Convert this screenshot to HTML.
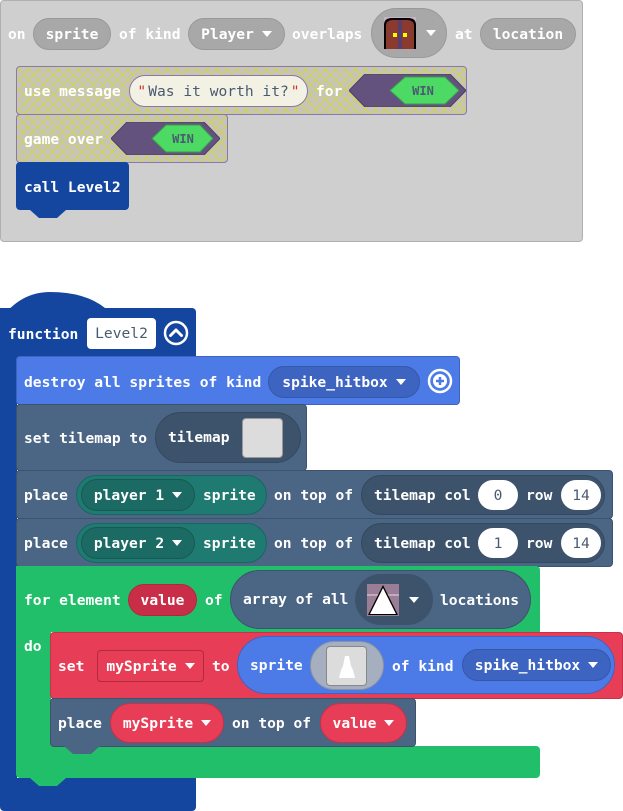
<!DOCTYPE html>
<html><head><meta charset="utf-8">
<style>
*{margin:0;padding:0;box-sizing:border-box}
body{width:623px;height:811px;background:#fff;position:relative;overflow:hidden;font-family:"DejaVu Sans Mono","Liberation Mono",monospace;font-weight:bold;font-size:14.6px;color:#fff}
div{position:absolute}
.t{white-space:nowrap;line-height:16px;margin-top:1px}
.p{border-radius:20px;white-space:nowrap;display:flex;align-items:center;justify-content:center}
.hatch{background-color:#c4c4bc;background-image:repeating-linear-gradient(45deg,transparent 0 4px,#d4d44c 4px 5px,transparent 5px 7px),repeating-linear-gradient(-45deg,transparent 0 4px,#d4d44c 4px 5px,transparent 5px 7px);border:1px solid #8a76b0;border-radius:4px}
.slate{background:#4b6584;border:1px solid #3d536c;border-radius:4px}
.dd{display:inline-block;width:0;height:0;border-left:5px solid transparent;border-right:5px solid transparent;border-top:6px solid #fff;margin-left:8px;vertical-align:middle}
.notch{width:36px;height:8px;clip-path:polygon(0 0,100% 0,75% 100%,25% 100%)}
</style></head><body>

<!-- event block -->
<div style="left:0;top:0;width:583px;height:242px;background:#cfcfcf;border:1px solid #b0b0b0;border-radius:4px"></div>
<div class="t" style="left:8px;top:26px">on</div>
<div class="p" style="left:33px;top:18px;width:78px;height:32px;background:#a8a8a8;border:1px solid #999">sprite</div>
<div class="t" style="left:119px;top:26px">of kind</div>
<div class="p" style="left:188px;top:18px;width:97px;height:32px;background:#a8a8a8;border:1px solid #999">Player<span class="dd"></span></div>
<div class="t" style="left:292px;top:26px">overlaps</div>
<div class="p" style="left:371px;top:8px;width:76px;height:50px;background:#a8a8a8;border:1px solid #999;border-radius:25px;justify-content:flex-start;padding-left:12px">
 <svg width="32" height="32" viewBox="0 0 32 32"><rect width="32" height="32" fill="#c8b4c4"/><path d="M0 32V8Q0 1 8 1H24Q32 1 32 8V32Z" fill="#000"/><path d="M2 32V9Q2 3 9 3H23Q30 3 30 9V32Z" fill="#8b3a30"/><rect x="14" y="3" width="4" height="29" fill="#5a3c6e"/><rect x="9" y="16" width="4" height="4" fill="#ff0"/><rect x="19" y="16" width="4" height="4" fill="#ff0"/></svg>
 <span class="dd" style="margin-left:10px"></span></div>
<div class="t" style="left:455px;top:26px">at</div>
<div class="p" style="left:480px;top:18px;width:96px;height:32px;background:#a8a8a8;border:1px solid #999">location</div>

<!-- use message -->
<div class="hatch" style="left:16px;top:66px;width:451px;height:49px"></div>
<div class="t" style="left:24px;top:83px">use message</div>
<div class="p" style="left:129px;top:75px;width:179px;height:32px;background:#f3f1e4;border:1px solid #8a76b0;color:#4a5a70;font-weight:normal"><span style="color:#c33;margin-right:2px">"</span>Was it worth it?<span style="color:#c33;margin-left:2px">"</span></div>
<div class="t" style="left:316px;top:83px">for</div>
<svg style="position:absolute;left:349px;top:74px" width="117" height="33"><polygon points="0,16.5 16,0 101,0 117,16.5 101,33 16,33" fill="#64527e" stroke="#4b3f68"/><polygon points="41,16.5 56,3 96,3 110,16.5 96,30 56,30" fill="#4cd964" stroke="#3d9a50"/><text x="74" y="21" text-anchor="middle" fill="#4a5a70" font-family="DejaVu Sans Mono" font-size="12">WIN</text></svg>

<!-- game over -->
<div class="hatch" style="left:16px;top:114px;width:212px;height:49px"></div>
<div class="t" style="left:24px;top:131px">game over</div>
<svg style="position:absolute;left:111px;top:122px" width="109" height="33"><polygon points="0,16.5 16,0 93,0 109,16.5 93,33 16,33" fill="#64527e" stroke="#4b3f68"/><polygon points="41,16.5 55,3 89,3 102,16.5 89,30 55,30" fill="#4cd964" stroke="#3d9a50"/><text x="72" y="21" text-anchor="middle" fill="#4a5a70" font-family="DejaVu Sans Mono" font-size="12">WIN</text></svg>

<!-- call Level2 -->
<div style="left:16px;top:162px;width:113px;height:48px;background:#1446a0;border-radius:4px"></div>
<div class="notch" style="left:30px;top:210px;background:#1446a0"></div>
<div class="t" style="left:24px;top:179px">call Level2</div>

<!-- function block -->
<svg style="position:absolute;left:0;top:290px" width="110" height="40"><path d="M0 40V30Q20 2 50 2Q85 2 105 18V40Z" fill="#1446a0"/></svg>
<div style="left:0;top:308px;width:196px;height:49px;background:#1446a0;border-radius:0 4px 0 0"></div>
<div style="left:0;top:350px;width:17px;height:440px;background:#1446a0"></div>
<div style="left:0;top:778px;width:196px;height:33px;background:#1446a0;border-radius:0 0 4px 4px"></div>
<div class="t" style="left:8px;top:326px">function</div>
<div class="p" style="left:87px;top:318px;width:69px;height:31px;background:#fff;border-radius:4px;color:#4a5a70;font-weight:normal">Level2</div>
<svg style="position:absolute;left:163px;top:320px" width="26" height="26"><circle cx="13" cy="13" r="11" fill="none" stroke="#fff" stroke-width="2.5"/><path d="M7.5 15.5L13 10L18.5 15.5" fill="none" stroke="#fff" stroke-width="3" stroke-linecap="round" stroke-linejoin="round"/></svg>

<!-- destroy -->
<div style="left:16px;top:356px;width:444px;height:49px;background:#4c7be8;border:1px solid #3d64c0;border-radius:4px"></div>
<div class="t" style="left:24px;top:374px">destroy all sprites of kind</div>
<div class="p" style="left:268px;top:366px;width:152px;height:32px;background:#3d64c0;border:1px solid #3558a8">spike_hitbox<span class="dd"></span></div>
<svg style="position:absolute;left:427px;top:368px" width="26" height="26"><circle cx="13" cy="13" r="11" fill="none" stroke="#fff" stroke-width="2.5"/><circle cx="13" cy="13" r="7" fill="#fff"/><path d="M13 9V17M9 13H17" stroke="#4c7be8" stroke-width="2.5"/></svg>

<!-- set tilemap -->
<div class="slate" style="left:16px;top:404px;width:291px;height:67px"></div>
<div class="t" style="left:24px;top:430px">set tilemap to</div>
<div class="p" style="left:155px;top:412px;width:146px;height:51px;background:#3d536c;border:1px solid #344860;border-radius:26px;justify-content:flex-start;padding-left:12px">tilemap</div>
<div style="left:242px;top:418px;width:41px;height:40px;background:#dcdcdc;border:1px solid #999;border-radius:4px"></div>

<!-- place 1 -->
<div class="slate" style="left:16px;top:470px;width:597px;height:49px"></div>
<div class="t" style="left:24px;top:487px">place</div>
<div class="p" style="left:76px;top:475px;width:191px;height:40px;background:#1f7a72;border:1px solid #196660;justify-content:flex-start;padding-left:4px"><span class="p" style="position:static;width:114px;height:32px;background:#1b6a63;border:1px solid #175a54">player 1<span class="dd"></span></span><span style="margin-left:8px">sprite</span></div>
<div class="t" style="left:274px;top:487px">on top of</div>
<div class="p" style="left:361px;top:475px;width:244px;height:40px;background:#3d536c;border:1px solid #344860;justify-content:flex-start;padding-left:12px">tilemap col</div>
<div class="p" style="left:478px;top:480px;width:40px;height:30px;background:#fff;color:#4a5a70;font-weight:normal">0</div>
<div class="t" style="left:526px;top:487px">row</div>
<div class="p" style="left:561px;top:480px;width:40px;height:30px;background:#fff;color:#4a5a70;font-weight:normal">14</div>

<!-- place 2 -->
<div class="slate" style="left:16px;top:518px;width:597px;height:49px"></div>
<div class="t" style="left:24px;top:535px">place</div>
<div class="p" style="left:76px;top:523px;width:191px;height:40px;background:#1f7a72;border:1px solid #196660;justify-content:flex-start;padding-left:4px"><span class="p" style="position:static;width:114px;height:32px;background:#1b6a63;border:1px solid #175a54">player 2<span class="dd"></span></span><span style="margin-left:8px">sprite</span></div>
<div class="t" style="left:274px;top:535px">on top of</div>
<div class="p" style="left:361px;top:523px;width:244px;height:40px;background:#3d536c;border:1px solid #344860;justify-content:flex-start;padding-left:12px">tilemap col</div>
<div class="p" style="left:478px;top:528px;width:40px;height:30px;background:#fff;color:#4a5a70;font-weight:normal">1</div>
<div class="t" style="left:526px;top:535px">row</div>
<div class="p" style="left:561px;top:528px;width:40px;height:30px;background:#fff;color:#4a5a70;font-weight:normal">14</div>

<!-- for element -->
<div style="left:16px;top:566px;width:524px;height:66px;background:#22bf6a;border-radius:0 4px 0 0"></div>
<div style="left:16px;top:630px;width:35px;height:120px;background:#22bf6a"></div>
<div style="left:16px;top:746px;width:524px;height:32px;background:#22bf6a;border-radius:0 4px 4px 4px"></div>
<div class="notch" style="left:30px;top:778px;background:#22bf6a"></div>
<div class="t" style="left:24px;top:592px">for element</div>
<div class="p" style="left:128px;top:584px;width:69px;height:32px;background:#c92e48;border:1px solid #b0283f">value</div>
<div class="t" style="left:205px;top:592px">of</div>
<div class="p" style="left:230px;top:570px;width:301px;height:59px;background:#4b6584;border:1px solid #3d536c;border-radius:30px;justify-content:flex-start;padding-left:12px">array of all</div>
<div class="p" style="left:355px;top:574px;width:78px;height:51px;background:#3d536c;border-radius:26px;justify-content:flex-start;padding-left:12px">
 <svg width="32" height="32" viewBox="0 0 32 32"><rect width="32" height="32" fill="#9a7e96"/><rect x="0" y="10" width="32" height="2" fill="#c4a8c0"/><polygon points="16,1 1,31 31,31" fill="#000"/><polygon points="16,4 3,30 29,30" fill="#fff"/></svg><span class="dd" style="margin-left:10px"></span></div>
<div class="t" style="left:440px;top:592px">locations</div>
<div class="t" style="left:24px;top:638px">do</div>

<!-- set mySprite -->
<div style="left:50px;top:632px;width:573px;height:67px;background:#e83d56;border:1px solid #c9304a;border-radius:4px"></div>
<div class="t" style="left:58px;top:658px">set</div>
<div class="p" style="left:97px;top:650px;width:107px;height:32px;background:#e83d56;border:1px solid #b02a40;border-radius:4px">mySprite<span class="dd"></span></div>
<div class="t" style="left:212px;top:658px">to</div>
<div class="p" style="left:237px;top:636px;width:378px;height:58px;background:#4c7be8;border:1px solid #3d64c0;border-radius:29px;justify-content:flex-start;padding-left:12px">sprite</div>
<div style="left:310px;top:641px;width:74px;height:49px;background:#a6afbf;border:1px solid #8a93a3;border-radius:25px"></div>
<div style="left:326px;top:646px;width:41px;height:40px;background:#dcdcdc;border:1px solid #888;border-radius:4px"></div>
<svg style="position:absolute;left:333px;top:652px" width="28" height="30"><polygon points="12,4 16,4 18,14 20,18 22,26 6,26 8,18 10,14" fill="#fff"/></svg>
<div class="t" style="left:392px;top:658px">of kind</div>
<div class="p" style="left:462px;top:649px;width:149px;height:32px;background:#3d64c0;border:1px solid #3558a8">spike_hitbox<span class="dd"></span></div>

<!-- place mySprite -->
<div class="slate" style="left:50px;top:698px;width:366px;height:49px"></div>
<div class="notch" style="left:64px;top:746px;background:#4b6584"></div>
<div class="t" style="left:58px;top:715px">place</div>
<div class="p" style="left:110px;top:703px;width:114px;height:40px;background:#e83d56;border:1px solid #c9304a">mySprite<span class="dd"></span></div>
<div class="t" style="left:232px;top:715px">on top of</div>
<div class="p" style="left:320px;top:703px;width:87px;height:40px;background:#e83d56;border:1px solid #c9304a">value<span class="dd"></span></div>

</body></html>
